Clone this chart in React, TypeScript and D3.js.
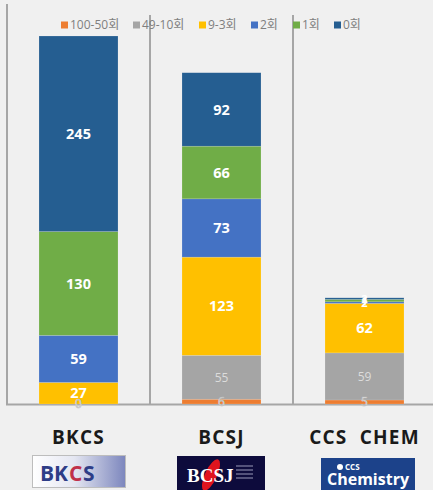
import React from "react";
import * as d3 from "d3";

const categories = ["BKCS", "BCSJ", "CCS  CHEM"];
const seriesNames = ["100-50회", "49-10회", "9-3회", "2회", "1회", "0회"];
const seriesColors = ["#ED7D31", "#A5A5A5", "#FFC000", "#4472C4", "#70AD47", "#255E91"];
const s100_50 = [0, 6, 5];
const s49_10 = [0, 55, 59];
const s9_3 = [27, 123, 62];
const s2 = [59, 73, 2];
const s1 = [130, 66, 3];
const s0 = [245, 92, 2];
const labels100_50 = ["0", "6", "5"];
const labels49_10 = ["", "55", "59"];
const labels9_3 = ["27", "123", "62"];
const labels2 = ["59", "73", "2"];
const labels1 = ["130", "66", "1"];
const labels0 = ["245", "92", "2"];

const W = 433;
const H = 490;

export default function App() {
  const series = [s100_50, s49_10, s9_3, s2, s1, s0];
  const labelSets = [labels100_50, labels49_10, labels9_3, labels2, labels1, labels0];
  const rows = categories.map((c, i) => {
    const r: any = { cat: c };
    seriesNames.forEach((n, j) => (r[n] = series[j][i]));
    return r;
  });
  const stacked = d3.stack().keys(seriesNames)(rows);
  const x = d3.scaleBand().domain(categories).range([7, 436]).paddingInner(0.4476).paddingOuter(0.2238);
  const y = d3.scaleLinear().domain([0, 461]).range([404, 36]);
  const font = "'Open Sans', 'Noto Sans CJK KR', sans-serif";
  const legendX = [61, 133, 199, 251, 293, 334];

  return (
    <svg width={W} height={H} style={{ position: "absolute", left: 0, top: 0, display: "block" }}>
      <rect x={0} y={0} width={W} height={H} fill="#f0f0f0" />
      {/* separators */}
      {categories.map((c, i) => (
        <line key={c} x1={(x(c) as number) - x.step() * 0.2238} x2={(x(c) as number) - x.step() * 0.2238}
          y1={i === 0 ? 4 : 15} y2={405} stroke="#a6a6a6" strokeWidth={2} />
      ))}
      <line x1={6} x2={W} y1={404.5} y2={404.5} stroke="#a6a6a6" strokeWidth={2} />
      {/* bars */}
      {stacked.map((layer, j) =>
        layer.map((d, i) => {
          const c = categories[i];
          const y0 = y(d[0]);
          const y1 = y(d[1]);
          return (
            <rect key={`${j}-${i}`} x={x(c)} width={x.bandwidth()} y={y1} height={Math.max(0, y0 - y1)}
              fill={seriesColors[j]} stroke="#f0f0f0" strokeOpacity={0.35} strokeWidth={0.5} />
          );
        })
      )}
      {/* labels */}
      {stacked.map((layer, j) =>
        layer.map((d, i) => {
          const lab = labelSets[j][i];
          if (!lab) return null;
          const c = categories[i];
          const cx = (x(c) as number) + x.bandwidth() / 2;
          const cy = (y(d[0]) + y(d[1])) / 2;
          const isGray = j === 1;
          const small = j === 0;
          const tiny = i === 2 && j >= 3;
          return (
            <text key={`l${j}-${i}`} x={cx} y={cy} dy="0.36em" textAnchor="middle"
              fontFamily={font} fontSize={small ? 12 : isGray ? 12 : tiny ? 11 : 14.5}
              fontWeight={isGray || small ? 400 : 700}
              fill={isGray ? "#dcdcdc" : small ? "#f4f4f4" : "#ffffff"}
              stroke={small ? "#bdbdbd" : "none"} strokeWidth={small ? 0.6 : 0}>
              {lab}
            </text>
          );
        })
      )}
      {/* legend */}
      {seriesNames.map((n, j) => (
        <g key={n} transform={`translate(${legendX[j]},25)`}>
          <rect x={0} y={-3.5} width={7} height={7} fill={seriesColors[j]} />
          <text x={9} y={0} dy="0.35em" fontFamily={font} fontSize={12} fill="#7f7f7f">{n}</text>
        </g>
      ))}
      {/* category labels */}
      {categories.map((c) => (
        <text key={c} x={(x(c) as number) + x.bandwidth() / 2} y={444} textAnchor="middle"
          fontFamily={font} fontWeight={700} fontSize={19} letterSpacing={1.2} fill="#1a1a1a" style={{ whiteSpace: "pre" }}>
          {c}
        </text>
      ))}
      {/* logos */}
      <defs>
        <linearGradient id="bkcsg" x1="0" x2="1" y1="0" y2="0">
          <stop offset="0" stopColor="#ffffff" />
          <stop offset="0.45" stopColor="#e4e6f1" />
          <stop offset="1" stopColor="#7c86bd" />
        </linearGradient>
      </defs>
      <rect x={32.5} y={455.5} width={93} height={32} fill="url(#bkcsg)" stroke="#bdbdbd" />
      <text x={40} y={481} fontFamily={font} fontWeight={700} fontSize={21} fill="#2e3d87">BK</text>
      <text x={69} y={481} fontFamily={font} fontWeight={700} fontSize={21} fill="#c0304a">C</text>
      <text x={83} y={481} fontFamily={font} fontWeight={700} fontSize={21} fill="#2e3d87">S</text>
      <rect x={177} y={456} width={88} height={34} fill="#0d0b3c" />
      <ellipse cx={211} cy={475} rx={6} ry={17} transform="rotate(25 211 475)" fill="#e0141e" />
      <text x={187} y={482} fontFamily="'Liberation Serif', serif" fontWeight={700} fontSize={19} fill="#ffffff">BCSJ</text>
      {[466, 470, 474, 478].map((yy) => (
        <line key={yy} x1={236} x2={253} y1={yy} y2={yy} stroke="#9a9ab8" strokeWidth={1} />
      ))}
      <rect x={321} y={458} width={94} height={32} fill="#1c428a" />
      <circle cx={340} cy={467} r={3} fill="#ffffff" />
      <text x={345} y={470} fontFamily={font} fontWeight={700} fontSize={8} fill="#ffffff">CCS</text>
      <text x={368} y={485} textAnchor="middle" fontFamily={font} fontWeight={700} fontSize={16} fill="#ffffff">Chemistry</text>
    </svg>
  );
}
